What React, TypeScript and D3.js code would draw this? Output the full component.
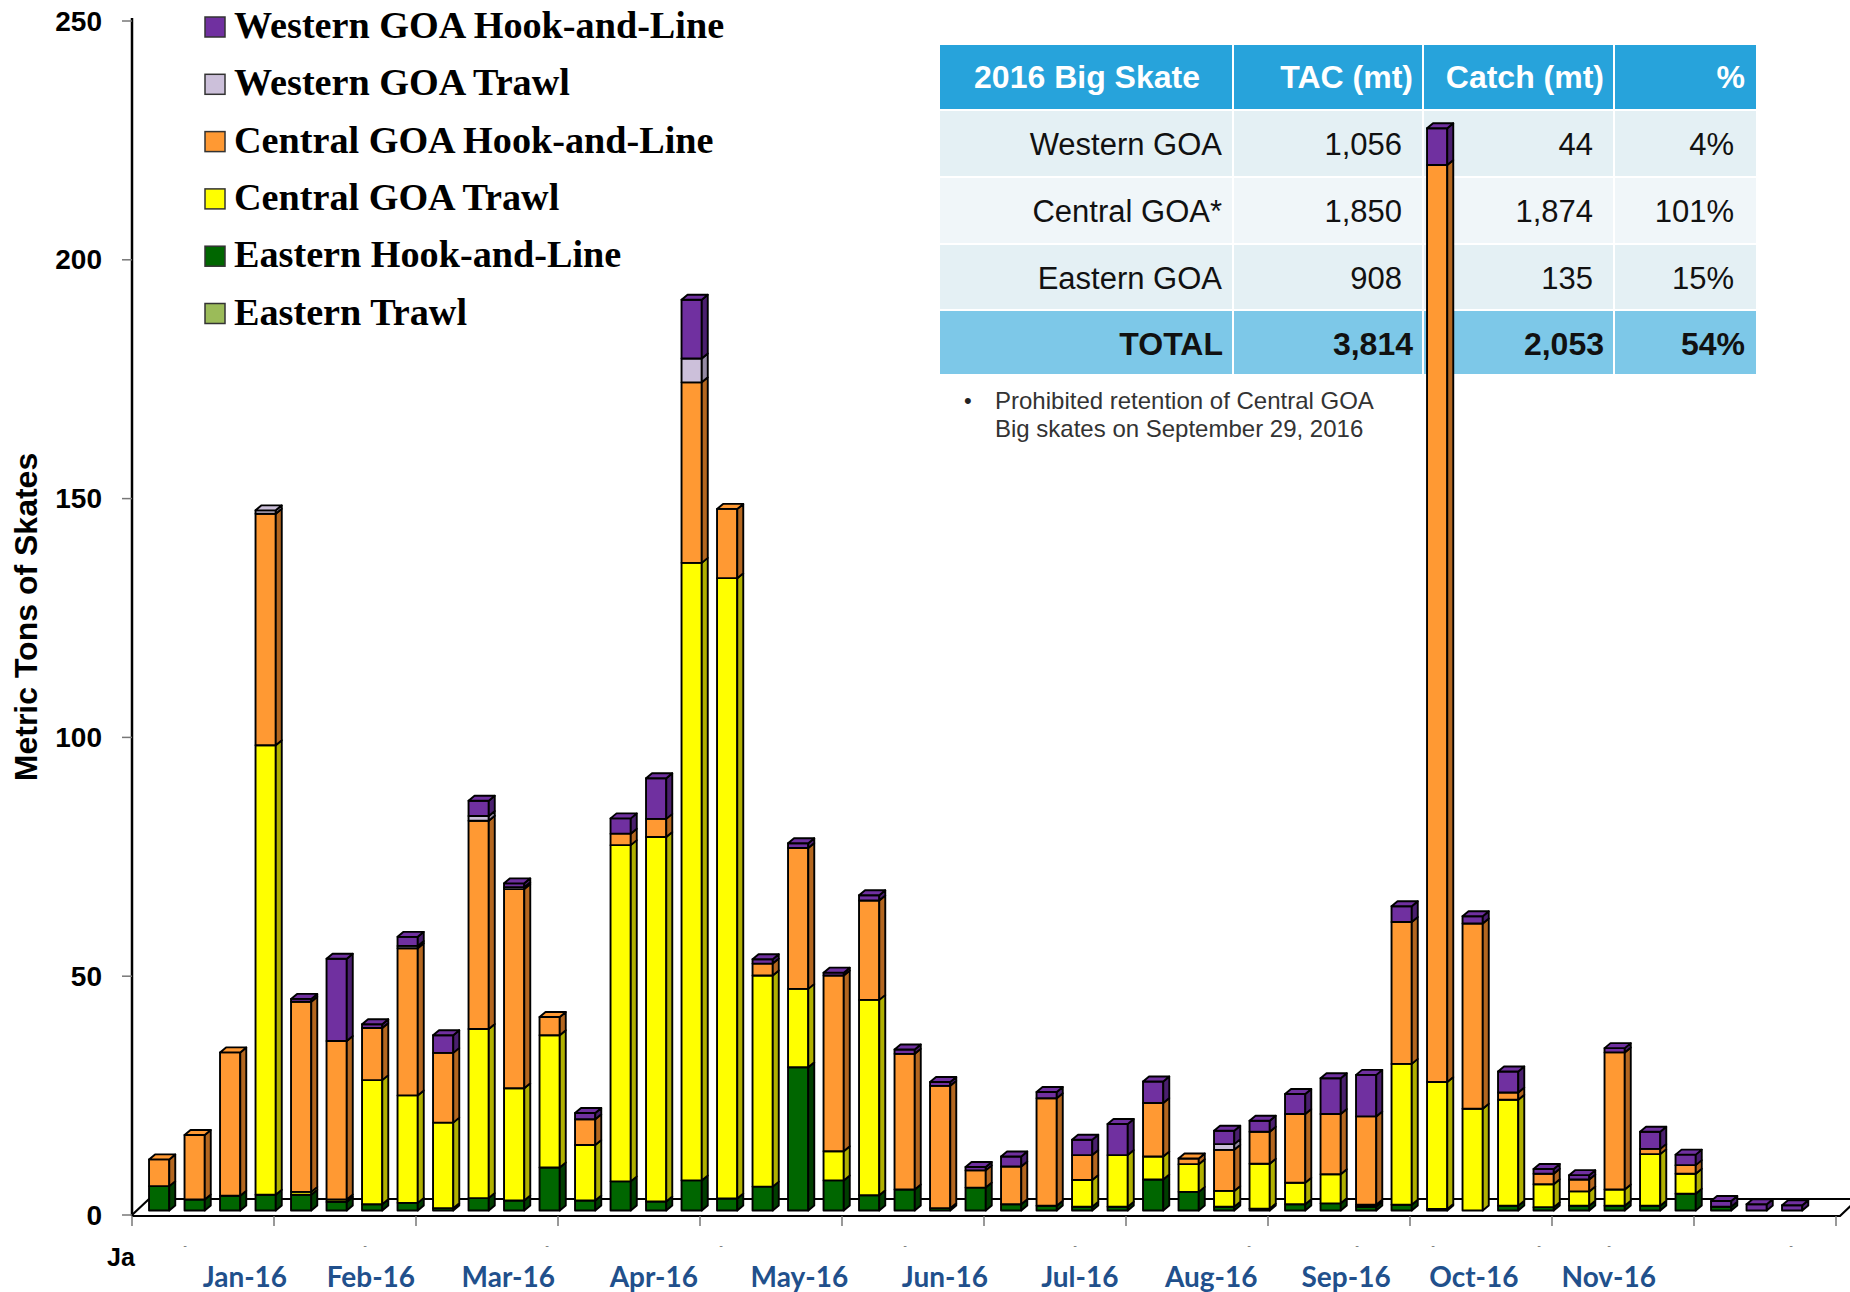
import * as d3 from 'd3';

// weekly catch, 2016 (metric tons), one value per week bar
const easternTrawl = [0, 0, 0, 0, 0, 0, 0, 0, 0, 0, 0, 0, 0, 0, 0, 0, 0, 0, 0, 0, 0, 0, 0, 0, 0, 0, 0, 0, 0, 0, 0, 0, 0, 0, 0, 0, 0, 0, 0, 0, 0, 0, 0, 0, 0, 0, 0];
const easternHAL = [5.1, 2.3, 3.1, 3.3, 3.3, 1.8, 1.3, 1.6, 0.5, 2.6, 2.1, 9.0, 2.1, 6.1, 1.9, 6.3, 2.5, 5.0, 30.0, 6.3, 3.2, 4.4, 0.5, 4.8, 1.3, 1.0, 0.8, 0.8, 6.5, 3.9, 0.8, 0.4, 1.3, 1.5, 0.8, 1.2, 0.3, 0, 1.0, 0.7, 1.0, 1.0, 1.0, 3.5, 0.8, 0, 0];
const centralTrawl = [0, 0, 0, 94.1, 0.6, 0.5, 26.0, 22.5, 17.9, 35.4, 23.5, 27.7, 11.6, 70.4, 76.3, 129.3, 129.9, 44.2, 16.4, 6.1, 40.9, 0, 0, 0, 0, 0, 5.6, 10.8, 4.8, 5.8, 3.3, 9.4, 4.5, 6.1, 0.4, 29.5, 26.6, 21.3, 22.2, 4.8, 3.0, 3.4, 10.8, 4.2, 0, 0, 0];
const centralHAL = [5.6, 13.5, 30.0, 48.5, 39.8, 33.2, 10.9, 30.8, 14.6, 43.6, 41.7, 3.8, 5.4, 2.4, 3.8, 37.8, 14.5, 2.5, 29.5, 36.8, 20.8, 28.4, 25.6, 3.6, 7.9, 22.5, 5.2, 0, 11.2, 1.2, 8.6, 6.7, 14.4, 12.6, 18.5, 29.7, 192.0, 38.8, 1.5, 2.2, 2.5, 28.7, 1.1, 1.8, 0, 0, 0];
const westernTrawl = [0, 0, 0, 0.7, 0, 0, 0, 0.5, 0, 1.0, 0.4, 0, 0, 0, 0, 5.0, 0, 0, 0, 0, 0, 0, 0, 0, 0, 0, 0, 0, 0, 0, 1.2, 0, 0, 0, 0, 0, 0, 0, 0, 0, 0, 0, 0, 0, 0, 0, 0];
const westernHAL = [0, 0, 0, 0, 0.6, 17.2, 0.8, 1.9, 3.7, 3.2, 0.8, 0, 1.3, 3.2, 8.5, 12.3, 0, 0.9, 1.0, 0.6, 1.1, 0.9, 0.8, 0.7, 2.1, 1.3, 3.2, 6.5, 4.5, 0, 2.8, 2.3, 4.2, 7.5, 8.7, 3.3, 7.7, 1.5, 4.4, 1.0, 0.9, 0.9, 3.6, 2.2, 1.2, 1.3, 1.1];

const seriesNames = ['Eastern Trawl', 'Eastern Hook-and-Line', 'Central GOA Trawl', 'Central GOA Hook-and-Line', 'Western GOA Trawl', 'Western GOA Hook-and-Line'];
const seriesData = [easternTrawl, easternHAL, centralTrawl, centralHAL, westernTrawl, westernHAL];

const monthLabels = ['Jan-16', 'Feb-16', 'Mar-16', 'Apr-16', 'May-16', 'Jun-16', 'Jul-16', 'Aug-16', 'Sep-16', 'Oct-16', 'Nov-16'];
const monthAt = [3.18, 6.73, 10.6, 14.7, 18.8, 22.9, 26.7, 30.4, 34.2, 37.8, 41.6];
const yTicks = [0, 50, 100, 150, 200, 250];

const tableHead = ['2016 Big Skate', 'TAC (mt)', 'Catch (mt)', '%'];
const regions = ['Western GOA', 'Central GOA*', 'Eastern GOA', 'TOTAL'];
const tacMt = ['1,056', '1,850', '908', '3,814'];
const catchMt = ['44', '1,874', '135', '2,053'];
const pctCaught = ['4%', '101%', '15%', '54%'];
const noteLines = ['Prohibited retention of Central GOA', 'Big skates on September 29, 2016'];

// cut-off week labels that show as specks under the axis
const speckX = [185, 365, 547, 721, 905, 1075, 1249, 1357, 1433, 1539, 1609, 1791];

const front = ['#9BBB59', '#006600', '#FFFF00', '#FF9933', '#CCC0DA', '#7030A0'];
const side = ['#6E8A3C', '#003E00', '#B0B000', '#B3661F', '#948AA3', '#4A1F6E'];

const SANS = 'Liberation Sans, Arial, sans-serif';

export default function App() {
  const nWeeks = 48;
  const x = d3.scaleBand<number>()
    .domain(d3.range(nWeeks))
    .range([132, 1836])
    .paddingInner(0.43)
    .paddingOuter(0.215);
  const y = d3.scaleLinear().domain([0, 250]).range([1215, 21]);

  const rows = easternHAL.map((_, i) => {
    const r: Record<string, number> = {};
    seriesNames.forEach((s, k) => { r[s] = seriesData[k][i]; });
    return r;
  });
  const stacked = d3.stack<Record<string, number>>().keys(seriesNames)(rows);

  const bw = x.bandwidth();
  const shiftX = 9.4, shiftY = -4.5; // front face sits back on the floor
  const sdx = 6, sdy = -5; // bar depth
  const sw = 1.9;

  const bars: JSX.Element[] = [];
  rows.forEach((_, i) => {
    const x0 = (x(i) || 0) + shiftX;
    let topLayer = -1;
    stacked.forEach((layer, k) => { if (layer[i][1] - layer[i][0] > 0) topLayer = k; });
    stacked.forEach((layer, k) => {
      const [v0, v1] = layer[i];
      if (v1 - v0 <= 0) return;
      const yb = y(v0) + shiftY, yt = y(v1) + shiftY;
      bars.push(
        <g key={`b${i}-${k}`} stroke="#000" strokeWidth={sw} strokeLinejoin="round">
          <rect x={x0} y={yt} width={bw} height={yb - yt} fill={front[k]} />
          <path d={`M${x0 + bw},${yb}L${x0 + bw + sdx},${yb + sdy}L${x0 + bw + sdx},${yt + sdy}L${x0 + bw},${yt}Z`} fill={side[k]} />
        </g>
      );
    });
    if (topLayer >= 0) {
      const yt = y(stacked[topLayer][i][1]) + shiftY;
      bars.push(
        <path key={`c${i}`} d={`M${x0},${yt}L${x0 + sdx},${yt + sdy}L${x0 + bw + sdx},${yt + sdy}L${x0 + bw},${yt}Z`}
          fill={front[topLayer]} stroke="#000" strokeWidth={sw} strokeLinejoin="round" />
      );
    }
  });

  const step = x.step();
  const x0r = x.range()[0];
  const xTicks = d3.range(0, nWeeks + 1, 4).map(k => x0r + k * step);

  // table layout
  const colX = [940, 1234, 1424, 1615, 1756];
  const rowY = [45, 111, 178, 245, 311, 376];
  const rowFill = ['#27A3DB', '#E4F0F4', '#F0F6F9', '#E4F0F4', '#7DC8E8'];
  const cells = [tableHead, ...regions.map((r, i) => [r, tacMt[i], catchMt[i], pctCaught[i]])];

  return (
    <svg width={1850} height={1292} style={{ position: 'absolute', left: 0, top: 0, background: '#fff' }}>
      {/* table */}
      {cells.map((row, r) => (
        <g key={`tr${r}`}>
          {row.map((txt, c) => {
            const bold = r === 0 || r === 4;
            const pad = bold ? 9 : (c === 0 ? 10 : 20);
            const cx = r === 0 && c === 0 ? (colX[0] + colX[1]) / 2 : colX[c + 1] - 2 - pad;
            return (
              <g key={`tc${r}-${c}`}>
                <rect x={colX[c]} y={rowY[r]} width={colX[c + 1] - colX[c] - (c < 3 ? 2 : 0)} height={rowY[r + 1] - rowY[r] - 2} fill={rowFill[r]} />
                <text x={cx} y={(rowY[r] + rowY[r + 1]) / 2 - (r === 0 ? 1 : 0)} dominantBaseline="central"
                  textAnchor={r === 0 && c === 0 ? 'middle' : 'end'}
                  fontFamily={SANS} fontSize={bold ? 32 : 31} fontWeight={bold ? 'bold' : 'normal'}
                  fill={r === 0 ? '#fff' : '#111'}>{txt}</text>
              </g>
            );
          })}
        </g>
      ))}
      <text x={964} y={400} dominantBaseline="central" fontFamily={SANS} fontSize={22} fill="#222">•</text>
      {noteLines.map((t, i) => (
        <text key={`n${i}`} x={995} y={400 + i * 28} dominantBaseline="central" fontFamily={SANS} fontSize={24} fill="#333">{t}</text>
      ))}

      {/* floor */}
      <path d={`M132,1215L149,1199L1858,1199`} stroke="#000" strokeWidth={2.2} fill="none" />

      {bars}

      {/* front edge of floor / x axis */}
      <path d={`M132,1216L1840,1216L1858,1199`} stroke="#000" strokeWidth={2.2} fill="none" />
      {xTicks.map((t, i) => (
        <line key={`xt${i}`} x1={t} x2={t} y1={1216} y2={1226} stroke="#777" strokeWidth={1.5} />
      ))}

      {/* y axis */}
      <line x1={132} x2={132} y1={18} y2={1216} stroke="#000" strokeWidth={2.5} />
      {yTicks.map(t => (
        <g key={`yt${t}`}>
          <line x1={122} x2={132} y1={y(t)} y2={y(t)} stroke="#777" strokeWidth={1.5} />
          <text x={102} y={y(t)} dominantBaseline="central" textAnchor="end" fontFamily={SANS} fontWeight="bold" fontSize={28} fill="#000">{t}</text>
        </g>
      ))}
      <text transform="translate(26,617) rotate(-90)" textAnchor="middle" dominantBaseline="central"
        fontFamily={SANS} fontWeight="bold" fontSize={32} fill="#000">Metric Tons of Skates</text>

      {/* category labels */}
      <text x={107} y={1266} fontFamily={SANS} fontWeight="bold" fontSize={25} fill="#000">Ja</text>
      {speckX.map((sx, i) => (
        <text key={`sp${i}`} x={sx} y={1249} textAnchor="middle" fontFamily={SANS} fontSize={11} fill="#777">-</text>
      ))}
      {monthLabels.map((m, i) => (
        <text key={m} x={x0r + monthAt[i] * step} y={1287} textAnchor="middle"
          fontFamily="Lato, 'Open Sans', sans-serif" fontWeight="bold" fontSize={28} fill="#21508C">{m}</text>
      ))}

      {/* legend */}
      {seriesNames.slice().reverse().map((s, i) => {
        const k = seriesNames.length - 1 - i;
        const cy = 27 + i * 57.3;
        return (
          <g key={`lg${s}`}>
            <rect x={205} y={cy - 10} width={20} height={20} fill={front[k]} stroke="#333" strokeWidth={1.5} />
            <text x={234} y={cy + 11} fontFamily="'Liberation Serif', 'Times New Roman', serif" fontWeight="bold" fontSize={38.2} fill="#000">{s}</text>
          </g>
        );
      })}
    </svg>
  );
}
